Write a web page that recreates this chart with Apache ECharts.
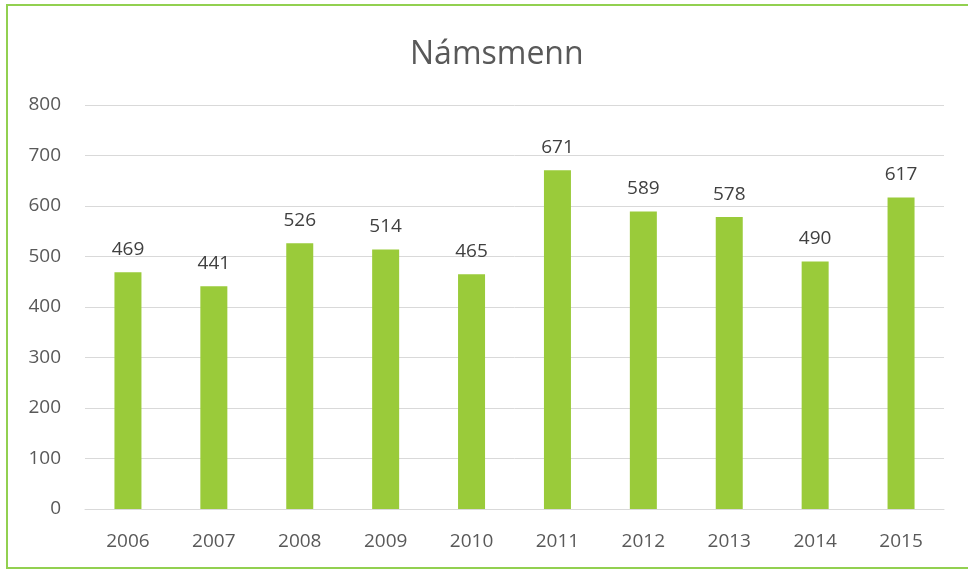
<!DOCTYPE html>
<html>
<head>
<meta charset="utf-8">
<title>Námsmenn</title>
<script src="https://cdn.jsdelivr.net/npm/echarts@6/dist/echarts.min.js"></script>
<style>
  html, body { margin: 0; padding: 0; background: #fff; }
  #main { width: 968px; height: 570px; }
</style>
</head>
<body>
<div id="main"></div>
<script>
// gögn
const years = ['2006', '2007', '2008', '2009', '2010', '2011', '2012', '2013', '2014', '2015']
const students = [469, 441, 526, 514, 465, 671, 589, 578, 490, 617]
const yTicks = [0, 800, 100] // min, max, interval

const font = 'Open Sans'
const myChart = echarts.init(document.getElementById('main'))

const option = {
  backgroundColor: '#fff',
  animation: false,
  title: {
    text: 'Námsmenn',
    left: 405,
    top: 34,
    textStyle: { fontFamily: font, fontSize: 32, fontWeight: 'normal', color: '#595959' }
  },
  graphic: [{
    type: 'rect',
    shape: { x: 7, y: 5, width: 980, height: 563 },
    style: { fill: 'none', stroke: '#92d050', lineWidth: 2 },
    silent: true
  }],
  grid: { left: 85, right: 24, top: 105, bottom: 61 },
  xAxis: {
    type: 'category',
    data: years,
    axisLine: { lineStyle: { color: '#d9d9d9', width: 1 } },
    axisTick: { show: false },
    axisLabel: { fontFamily: font, fontSize: 19, color: '#595959', margin: 23 }
  },
  yAxis: {
    type: 'value',
    min: yTicks[0],
    max: yTicks[1],
    interval: yTicks[2],
    axisLine: { show: false },
    axisTick: { show: false },
    splitLine: { lineStyle: { color: '#d9d9d9', width: 1 } },
    axisLabel: { fontFamily: font, fontSize: 19, color: '#595959', margin: 24 }
  },
  series: [{
    name: 'Námsmenn',
    type: 'bar',
    data: students,
    barWidth: 27,
    itemStyle: { color: '#9acb3a' },
    label: {
      show: true,
      position: 'top',
      distance: 13,
      fontFamily: font,
      fontSize: 19,
      color: '#404040'
    }
  }]
}

option && myChart.setOption(option)
</script>
</body>
</html>
